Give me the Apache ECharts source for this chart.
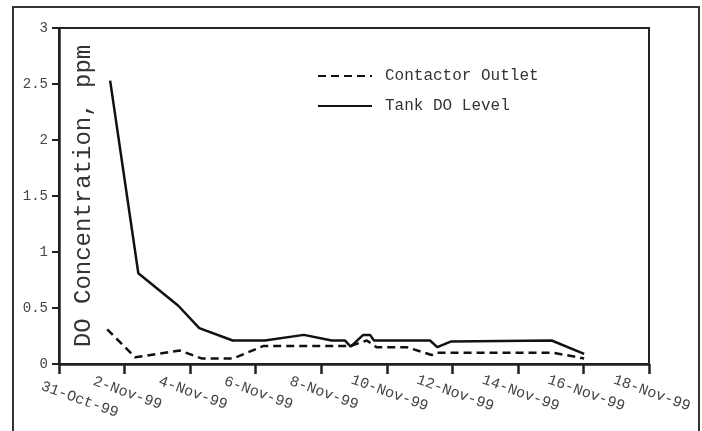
<!DOCTYPE html>
<html>
<head>
<meta charset="utf-8">
<script src="https://cdn.jsdelivr.net/npm/echarts@6/dist/echarts.min.js"></script>
<style>
  html, body { margin: 0; padding: 0; background: #fff; }
  #chart { width: 702px; height: 431px; }
</style>
</head>
<body>
<div id="chart"></div>
<script>
// x values are days after 31-Oct-99
var xTickLabels = ['31-Oct-99', '2-Nov-99', '4-Nov-99', '6-Nov-99', '8-Nov-99', '10-Nov-99',
    '12-Nov-99', '14-Nov-99', '16-Nov-99', '18-Nov-99'];

var outletDays = [1.47, 2.32, 3.69, 4.35, 5.32, 6.23, 8.88, 9.39, 9.69, 10.61, 11.37, 11.52, 15.08, 16.02];
var outletValues = [0.31, 0.06, 0.12, 0.05, 0.05, 0.16, 0.16, 0.21, 0.15, 0.15, 0.08, 0.10, 0.10, 0.05];

var tankDays = [1.56, 2.42, 3.64, 4.28, 5.30, 6.28, 7.47, 8.32, 8.72, 8.90, 9.28, 9.49, 9.61, 11.32, 11.54, 11.95, 15.03, 16.02];
var tankValues = [2.53, 0.81, 0.52, 0.32, 0.21, 0.21, 0.26, 0.21, 0.21, 0.155, 0.26, 0.26, 0.21, 0.21, 0.15, 0.20, 0.21, 0.09];

var FONT = 'Liberation Mono';

function pairs(xs, ys) {
    return xs.map(function (x, i) { return [x, ys[i]]; });
}

var chart = echarts.init(document.getElementById('chart'));
chart.setOption({
    animation: false,
    backgroundColor: '#fff',
    graphic: [{
        type: 'polyline',
        shape: { points: [[13, 431], [13, 7], [699, 7], [699, 431]] },
        style: { stroke: '#333', lineWidth: 2, fill: null },
        silent: true
    }],
    grid: {
        left: 59,
        top: 28,
        right: 53,
        bottom: 67,
        containLabel: false,
        outerBoundsMode: 'none',
        show: true,
        borderColor: '#222',
        borderWidth: 2
    },
    legend: {
        orient: 'vertical',
        left: 317,
        top: 68,
        padding: 0,
        itemWidth: 54,
        itemHeight: 14,
        itemGap: 14,
        itemStyle: { opacity: 0 },
        data: ['Contactor Outlet', 'Tank DO Level'],
        textStyle: {
            fontFamily: FONT,
            fontSize: 16,
            color: '#333',
            padding: [0, 0, 0, 8]
        }
    },
    xAxis: {
        type: 'value',
        min: 0,
        max: 18,
        interval: 2,
        axisLine: { lineStyle: { color: '#222', width: 2.5 } },
        axisTick: { length: 10, lineStyle: { color: '#222', width: 2.5 } },
        splitLine: { show: false },
        axisLabel: {
            rotate: -20,
            align: 'center',
            verticalAlign: 'middle',
            margin: 28,
            fontFamily: FONT,
            fontSize: 15,
            color: '#444',
            formatter: function (v) {
                var i = Math.round(v / 2);
                return (i === 0 ? '{first|' : '{n|') + xTickLabels[i] + '}';
            },
            rich: {
                first: { fontFamily: FONT, fontSize: 15, color: '#444', padding: [0, 0, 0, 44] },
                n: { fontFamily: FONT, fontSize: 15, color: '#444', padding: [0, 0, 0, 6] }
            }
        }
    },
    yAxis: {
        type: 'value',
        min: 0,
        max: 3,
        interval: 0.5,
        name: 'DO Concentration, ppm',
        nameLocation: 'middle',
        nameRotate: 90,
        nameGap: -37,
        nameMoveOverlap: false,
        nameTextStyle: { fontFamily: FONT, fontSize: 24, color: '#333' },
        axisLine: { show: true, lineStyle: { color: '#222', width: 2.5 } },
        axisTick: { show: true, length: 7, lineStyle: { color: '#222', width: 2 } },
        splitLine: { show: false },
        axisLabel: { margin: 11, fontFamily: FONT, fontSize: 14, color: '#444' }
    },
    series: [
        {
            name: 'Contactor Outlet',
            type: 'line',
            symbol: 'none',
            lineStyle: { color: '#111', width: 2.5, type: [8, 5] },
            itemStyle: { color: '#111' },
            data: pairs(outletDays, outletValues)
        },
        {
            name: 'Tank DO Level',
            type: 'line',
            symbol: 'none',
            lineStyle: { color: '#111', width: 2.5 },
            itemStyle: { color: '#111' },
            data: pairs(tankDays, tankValues)
        }
    ]
});
</script>
</body>
</html>
